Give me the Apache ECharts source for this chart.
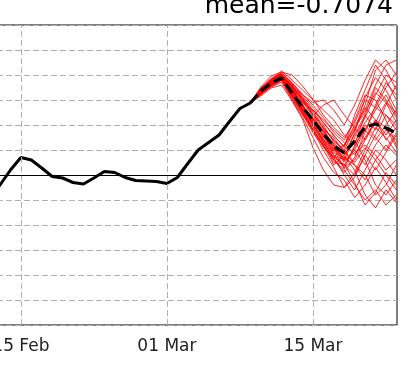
<!DOCTYPE html>
<html>
<head>
<meta charset="utf-8">
<script src="https://cdn.jsdelivr.net/npm/echarts@6/dist/echarts.min.js"></script>
<style>
html,body{margin:0;padding:0;background:#fff;}
#main{width:409px;height:378px;}
</style>
</head>
<body>
<div id="main"></div>
<script>
// day 0 = 15 Feb
var tickDays = [0, 14, 28];
var tickLabels = ['15 Feb', '01 Mar', '15 Mar'];

var obsStart = -3;
var obsValues = [-0.45, -0.20, 0.10, 0.35, 0.30, 0.14, -0.03, -0.06, -0.15, -0.18, -0.06, 0.07, 0.05,
    -0.05, -0.11, -0.12, -0.13, -0.17, -0.05, 0.23, 0.50, 0.65, 0.80, 1.07, 1.33, 1.44];

var fcStart = 22;
var meanValues = [1.44, 1.68, 1.84, 1.94, 1.64, 1.36, 1.10, 0.82, 0.58, 0.44, 0.68, 0.96, 1.02, 0.94, 0.84];

var members = [
    [1.44, 1.70, 1.90, 2.02, 1.80, 1.50, 1.20, 0.95, 0.70, 0.50, 0.90, 1.40, 2.10, 2.30, 2.00],
    [1.44, 1.65, 1.80, 1.95, 1.60, 1.30, 1.00, 0.70, 0.40, 0.20, 0.00, 0.40, 0.80, 1.20, 1.00],
    [1.44, 1.72, 1.88, 2.05, 1.85, 1.60, 1.45, 1.50, 1.30, 1.00, 1.40, 1.90, 2.30, 2.10, 1.70],
    [1.44, 1.60, 1.78, 1.90, 1.55, 1.20, 0.90, 0.60, 0.30, 0.10, -0.20, -0.50, -0.30, -0.60, -0.40],
    [1.44, 1.68, 1.85, 1.98, 1.70, 1.40, 1.05, 0.80, 0.60, 0.30, 0.50, 0.90, 0.70, 1.00, 1.30],
    [1.44, 1.66, 1.82, 1.92, 1.65, 1.45, 1.30, 1.10, 0.90, 0.70, 1.10, 1.60, 1.50, 1.10, 0.60],
    [1.44, 1.70, 1.86, 1.96, 1.60, 1.25, 0.95, 0.55, 0.35, 0.00, -0.30, 0.10, 0.50, 0.30, 0.00],
    [1.44, 1.62, 1.80, 1.94, 1.75, 1.35, 1.10, 0.75, 0.50, 0.60, 1.00, 1.30, 1.80, 2.20, 2.30],
    [1.44, 1.74, 1.92, 2.08, 1.90, 1.70, 1.50, 1.30, 1.10, 0.80, 0.60, 0.90, 1.30, 1.60, 1.20],
    [1.44, 1.64, 1.83, 1.90, 1.62, 1.30, 0.90, 0.60, 0.20, 0.40, 0.70, 0.30, -0.20, -0.40, -0.10],
    [1.44, 1.69, 1.87, 2.00, 1.78, 1.55, 1.20, 0.85, 0.55, 0.25, 0.50, 0.20, 0.60, 0.90, 0.70],
    [1.44, 1.67, 1.81, 1.93, 1.68, 1.38, 1.15, 0.90, 0.75, 0.45, 0.80, 1.20, 0.90, 1.40, 1.80],
    [1.44, 1.71, 1.89, 1.99, 1.72, 1.42, 1.02, 0.70, 0.45, 0.35, 0.20, -0.10, 0.30, 0.60, 0.40],
    [1.44, 1.63, 1.79, 1.91, 1.58, 1.28, 0.98, 0.65, 0.40, 0.15, 0.30, 0.70, 1.10, 0.80, 1.10],
    [1.44, 1.73, 1.93, 2.04, 1.82, 1.58, 1.35, 1.05, 0.80, 0.55, 1.20, 1.70, 2.20, 1.90, 1.50],
    [1.44, 1.66, 1.84, 1.97, 1.66, 1.33, 1.08, 0.78, 0.52, 0.38, 0.10, -0.40, -0.66, -0.30, -0.55],
    [1.44, 1.68, 1.86, 1.95, 1.74, 1.48, 1.25, 1.00, 0.65, 0.42, 0.65, 1.05, 1.35, 1.20, 0.90],
    [1.44, 1.65, 1.83, 1.96, 1.70, 1.36, 1.12, 0.88, 0.62, 0.28, 0.45, 0.60, 0.40, 0.10, 0.30],
    [1.44, 1.70, 1.90, 2.01, 1.77, 1.52, 1.28, 0.92, 0.58, 0.32, 0.85, 1.55, 1.95, 1.70, 1.30],
    [1.44, 1.61, 1.77, 1.89, 1.52, 1.22, 0.85, 0.58, 0.36, 0.18, 0.55, 1.00, 0.75, 0.50, 0.85],
    [1.44, 1.69, 1.85, 1.97, 1.76, 1.46, 1.18, 1.40, 1.50, 1.20, 0.95, 1.25, 1.65, 1.45, 1.05],
    [1.44, 1.67, 1.84, 1.94, 1.64, 1.32, 1.02, 0.72, 0.48, 0.50, 0.20, 0.00, -0.40, -0.20, 0.20],
    [1.44, 1.58, 1.74, 1.80, 1.48, 1.12, 0.55, 0.10, -0.20, -0.25, 0.05, 0.50, 0.95, 0.75, 0.45],
    [1.44, 1.76, 1.98, 2.06, 2.00, 1.78, 1.52, 1.20, 0.95, 0.75, 1.05, 1.50, 1.35, 1.75, 2.05],
    [1.44, 1.62, 1.76, 1.86, 1.50, 1.15, 0.75, 0.35, 0.05, -0.10, -0.45, -0.20, 0.15, -0.15, -0.50],
    [1.44, 1.68, 1.85, 1.98, 1.72, 1.40, 1.00, 0.65, 0.35, 0.60, 0.95, 0.70, 1.05, 1.45, 1.25],
    [1.44, 1.64, 1.82, 1.93, 1.62, 1.32, 1.05, 0.68, 0.30, 0.05, 0.35, 0.85, 1.40, 1.85, 1.60],
    [1.44, 1.70, 1.87, 2.00, 1.76, 1.50, 1.22, 0.95, 0.68, 0.48, 0.25, 0.55, 0.30, 0.00, -0.30],
    [1.44, 1.66, 1.83, 1.95, 1.66, 1.38, 1.10, 0.80, 0.55, 0.12, 0.60, 1.20, 1.75, 1.50, 1.15],
    [1.44, 1.72, 1.91, 2.03, 1.84, 1.62, 1.40, 1.15, 0.85, 0.65, 0.40, 0.75, 1.10, 0.95, 0.55],
    [1.44, 1.63, 1.80, 1.92, 1.60, 1.26, 0.88, 0.50, 0.15, -0.25, -0.05, 0.40, 0.10, 0.45, 0.80],
    [1.44, 1.69, 1.88, 1.99, 1.80, 1.55, 1.30, 1.05, 0.78, 0.58, 0.90, 1.35, 1.10, 0.70, 0.95],
    [1.44, 1.67, 1.86, 1.96, 1.69, 1.40, 1.12, 0.85, 0.40, 0.30, 0.75, 1.15, 1.60, 2.00, 1.85],
    [1.44, 1.65, 1.81, 1.91, 1.57, 1.24, 0.92, 0.62, 0.25, 0.22, -0.15, -0.60, -0.35, 0.05, -0.20]
];

function pairs(start, vals) {
    return vals.map(function (v, i) { return [start + i, v]; });
}

var myChart = echarts.init(document.getElementById('main'));
var font = 'DejaVu Sans';
var gridGray = '#b0b0b0';

var series = [];
// vertical grid lines + zero line
series.push({
    type: 'line',
    data: [],
    silent: true,
    z: 1,
    markLine: {
        silent: true,
        symbol: 'none',
        animation: false,
        label: {show: false},
        data: tickDays.map(function (d) {
            return {xAxis: d, lineStyle: {color: gridGray, width: 1, type: [6, 3]}};
        }).concat([{yAxis: 0, lineStyle: {color: '#000', width: 1, type: 'solid'}}])
    }
});
members.forEach(function (m, k) {
    series.push({
        name: 'member' + k,
        type: 'line',
        data: pairs(fcStart, m),
        showSymbol: false,
        z: 2,
        lineStyle: {color: 'rgba(255,0,0,0.85)', width: 1}
    });
});
series.push({
    name: 'mean',
    type: 'line',
    data: pairs(fcStart, meanValues),
    showSymbol: false,
    z: 3,
    lineStyle: {color: '#000', width: 3.2, type: [11, 5]}
});
series.push({
    name: 'obs',
    type: 'line',
    data: pairs(obsStart, obsValues),
    showSymbol: false,
    z: 4,
    lineStyle: {color: '#000', width: 3}
});

var option = {
    animation: false,
    title: {
        text: 'mean=-0.7074',
        right: 16,
        top: -6,
        padding: 0,
        textStyle: {fontFamily: font, fontSize: 25, fontWeight: 'normal', color: '#000'}
    },
    grid: {
        left: -3,
        right: 12,
        top: 25,
        bottom: 53,
        outerBoundsMode: 'none',
        containLabel: false,
        show: true,
        borderColor: '#000',
        borderWidth: 1,
        backgroundColor: 'transparent'
    },
    xAxis: {
        type: 'value',
        min: -2.29,
        max: 36.06,
        axisLine: {show: false},
        splitLine: {show: false},
        axisTick: {show: true, customValues: tickDays, length: 5, inside: false, lineStyle: {color: '#000'}},
        axisLabel: {
            customValues: tickDays,
            margin: 13,
            hideOverlap: false,
            fontFamily: font,
            fontSize: 17,
            color: '#222',
            formatter: function (v) { return tickLabels[tickDays.indexOf(v)]; }
        }
    },
    yAxis: {
        type: 'value',
        min: -3,
        max: 3,
        interval: 0.5,
        axisLine: {show: false},
        axisTick: {show: false},
        axisLabel: {show: false},
        splitLine: {show: true, lineStyle: {color: gridGray, width: 1, type: [6, 3]}}
    },
    series: series
};
myChart.setOption(option);
</script>
</body>
</html>
